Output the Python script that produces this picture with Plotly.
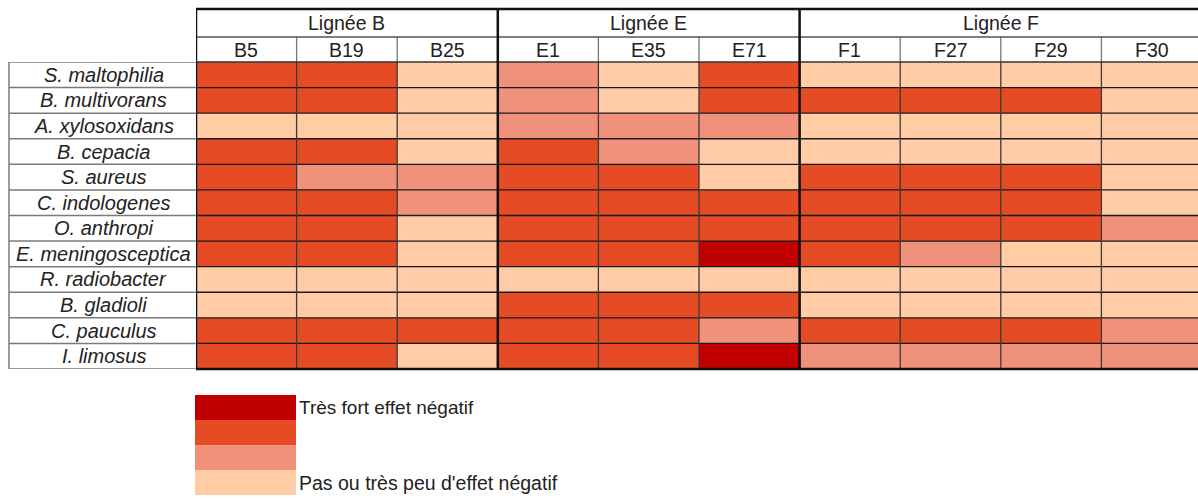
import plotly.graph_objects as go

# Bacterial species (rows) and strains (columns), grouped by line
species = ["S. maltophilia", "B. multivorans", "A. xylosoxidans", "B. cepacia",
           "S. aureus", "C. indologenes", "O. anthropi", "E. meningosceptica",
           "R. radiobacter", "B. gladioli", "C. pauculus", "I. limosus"]
strains = ["B5", "B19", "B25", "E1", "E35", "E71", "F1", "F27", "F29", "F30"]
groups = ["Lignée B", "Lignée E", "Lignée F"]
group_sizes = [3, 3, 4]

# Effect level: 0 = none / very little, 1 = weak, 2 = strong, 3 = very strong negative effect
effect = [
    [2, 2, 0, 1, 0, 2, 0, 0, 0, 0],
    [2, 2, 0, 1, 0, 2, 2, 2, 2, 0],
    [0, 0, 0, 1, 1, 1, 0, 0, 0, 0],
    [2, 2, 0, 2, 1, 0, 0, 0, 0, 0],
    [2, 1, 1, 2, 2, 0, 2, 2, 2, 0],
    [2, 2, 1, 2, 2, 2, 2, 2, 2, 0],
    [2, 2, 0, 2, 2, 2, 2, 2, 2, 1],
    [2, 2, 0, 2, 2, 3, 2, 1, 0, 0],
    [0, 0, 0, 0, 0, 0, 0, 0, 0, 0],
    [0, 0, 0, 2, 2, 2, 0, 0, 0, 0],
    [2, 2, 2, 2, 2, 1, 2, 2, 2, 1],
    [2, 2, 0, 2, 2, 3, 1, 1, 1, 1],
]

legend_levels = [3, 2, 1, 0]
legend_labels = ["Très fort effet négatif", "", "", "Pas ou très peu d'effet négatif"]

level_colors = ["#FFCCA6", "#F0917B", "#E54C25", "#C00000"]

W, H = 1198, 499
FONT = "Liberation Sans, Arial, sans-serif"
TXT = "#222222"


def py(pix):
    return 1 - pix / H


def px(pix):
    return pix / W


# stepped colour scale for 4 discrete levels
cscale = []
for i, c in enumerate(level_colors):
    cscale.append([i / 4, c])
    cscale.append([(i + 1) / 4, c])

grid_left, col_w = 196, 100.6
grid_top, grid_bottom = 62, 369
hdr_top, hdr_mid = 9, 37
x_max = -0.5 + (W - grid_left) / col_w

fig = go.Figure()
fig.add_trace(go.Heatmap(
    z=effect, x=strains, y=species, colorscale=cscale, zmin=-0.5, zmax=3.5,
    showscale=False, hoverinfo="skip", xaxis="x", yaxis="y",
))
fig.add_trace(go.Heatmap(
    z=[[v] for v in legend_levels], colorscale=cscale, zmin=-0.5, zmax=3.5,
    showscale=False, hoverinfo="skip", xaxis="x2", yaxis="y2",
))

shapes = []
annotations = []
n_rows, n_cols = len(species), len(strains)

# interior grid lines of the heat table
for r in range(1, n_rows):
    shapes.append(dict(type="line", xref="x", yref="y", x0=-0.5, x1=n_cols - 0.5,
                       y0=r - 0.5, y1=r - 0.5, line=dict(color="#1a1a1a", width=1.4)))
for c in range(1, n_cols):
    shapes.append(dict(type="line", xref="x", yref="y", x0=c - 0.5, x1=c - 0.5,
                       y0=-0.5, y1=n_rows - 0.5, line=dict(color="#3a3a3a", width=1.3)))
# strain header cells
for c in range(1, n_cols):
    shapes.append(dict(type="line", xref="x", yref="paper", x0=c - 0.5, x1=c - 0.5,
                       y0=py(grid_top), y1=py(hdr_mid), line=dict(color="#777777", width=1.3)))
shapes.append(dict(type="line", xref="x", yref="paper", x0=-0.5, x1=n_cols - 0.5,
                   y0=py(hdr_mid), y1=py(hdr_mid), line=dict(color="#555555", width=1.3)))
shapes.append(dict(type="line", xref="x", yref="paper", x0=-0.5, x1=n_cols - 0.5,
                   y0=py(grid_top), y1=py(grid_top), line=dict(color="#333333", width=1.5)))
# heavy outline of the groups
shapes.append(dict(type="line", xref="x", yref="paper", x0=-0.5, x1=n_cols - 0.5,
                   y0=py(hdr_top), y1=py(hdr_top), line=dict(color="#111111", width=2.5)))
shapes.append(dict(type="line", xref="x", yref="paper", x0=-0.5, x1=n_cols - 0.5,
                   y0=py(grid_bottom), y1=py(grid_bottom), line=dict(color="#111111", width=2.5)))
start = 0
for g, n in zip(groups, group_sizes):
    xb = start - 0.5
    shapes.append(dict(type="line", xref="x", yref="paper", x0=xb, x1=xb,
                       y0=py(grid_bottom), y1=py(hdr_top), line=dict(color="#111111", width=2.5)))
    annotations.append(dict(text=g, xref="x", yref="paper", x=start + (n - 1) / 2,
                            y=py((hdr_top + hdr_mid) / 2 + 0.5), showarrow=False,
                            font=dict(family=FONT, size=19.5, color=TXT),
                            xanchor="center", yanchor="middle"))
    start += n

for s in strains:
    annotations.append(dict(text=s, xref="x", yref="paper", x=s,
                            y=py((hdr_mid + grid_top) / 2 + 0.5), showarrow=False,
                            font=dict(family=FONT, size=19.5, color=TXT),
                            xanchor="center", yanchor="middle"))

# species label column
lab_left = 9
for r in range(n_rows + 1):
    shapes.append(dict(type="line", xref="paper", yref="y", x0=px(lab_left), x1=px(grid_left),
                       y0=r - 0.5, y1=r - 0.5, line=dict(color="#7a7a7a", width=1.5)))
shapes.append(dict(type="line", xref="paper", yref="y", x0=px(lab_left), x1=px(lab_left),
                   y0=-0.5, y1=n_rows - 0.5, line=dict(color="#7a7a7a", width=1.5)))
for s in species:
    annotations.append(dict(text=f"<i>{s}</i>", xref="paper", yref="y",
                            x=px((lab_left + grid_left) / 2 + 1), y=s, showarrow=False,
                            font=dict(family=FONT, size=20, color=TXT),
                            xanchor="center", yanchor="middle"))

# legend captions
annotations.append(dict(text=legend_labels[0], xref="paper", yref="y2", x=px(297), y=0,
                        showarrow=False, xanchor="left", yanchor="middle",
                        font=dict(family=FONT, size=19, color=TXT)))
annotations.append(dict(text=legend_labels[3], xref="paper", yref="y2", x=px(297), y=3,
                        showarrow=False, xanchor="left", yanchor="middle",
                        font=dict(family=FONT, size=19.5, color=TXT)))

fig.update_layout(
    width=W, height=H, margin=dict(l=0, r=0, t=0, b=0),
    paper_bgcolor="white", plot_bgcolor="white", showlegend=False,
    xaxis=dict(domain=[px(grid_left), 1], range=[-0.5, x_max], showticklabels=False,
               showgrid=False, zeroline=False, ticks="", fixedrange=True),
    yaxis=dict(domain=[py(grid_bottom), py(grid_top)], range=[n_rows - 0.5, -0.5],
               showticklabels=False, showgrid=False, zeroline=False, ticks="", fixedrange=True),
    xaxis2=dict(domain=[px(195), px(296)], range=[-0.5, 0.5], showticklabels=False,
                showgrid=False, zeroline=False, ticks="", anchor="y2"),
    yaxis2=dict(domain=[py(495), py(395)], range=[3.5, -0.5], showticklabels=False,
                showgrid=False, zeroline=False, ticks="", anchor="x2"),
    shapes=shapes, annotations=annotations,
)

fig.write_html("out.html")
